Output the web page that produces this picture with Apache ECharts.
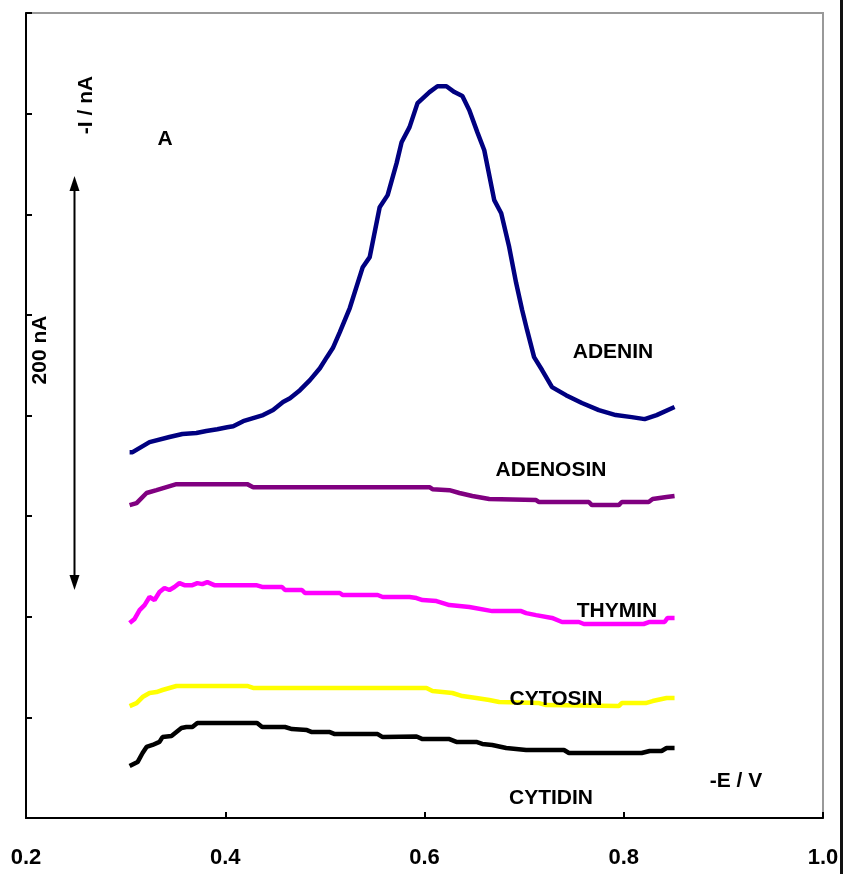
<!DOCTYPE html>
<html>
<head>
<meta charset="utf-8">
<script src="https://cdn.jsdelivr.net/npm/echarts@6/dist/echarts.min.js"></script>
<style>
  html, body { margin: 0; padding: 0; background: #fff; }
  #chart { width: 844px; height: 874px; }
</style>
</head>
<body>
<div id="chart"></div>
<script>
// potential axis (-E / V) and current (-I / nA)
const xTicks = [0.2, 0.4, 0.6, 0.8, 1.0]

const adenin = [
  [0.304, 181.8], [0.307, 181.8], [0.324, 186.8], [0.344, 189.3], [0.357, 190.8],
  [0.371, 191.3], [0.381, 192.3], [0.392, 193.2], [0.402, 194.2], [0.408, 194.7],
  [0.418, 197.2], [0.428, 198.7], [0.438, 200.2], [0.448, 202.7], [0.458, 206.7],
  [0.465, 208.6], [0.475, 212.6], [0.485, 217.6], [0.495, 223.5], [0.502, 229.0],
  [0.508, 233.5], [0.515, 241.4], [0.525, 253.4], [0.538, 273.7], [0.545, 278.7],
  [0.555, 303.5], [0.563, 309.5], [0.572, 325.4], [0.577, 335.8], [0.585, 343.3],
  [0.593, 355.2], [0.605, 360.7], [0.613, 363.6], [0.622, 363.6], [0.630, 360.7],
  [0.638, 358.7], [0.645, 351.7], [0.653, 340.8], [0.660, 331.8], [0.670, 307.0],
  [0.677, 300.5], [0.685, 283.7], [0.692, 265.8], [0.698, 252.4], [0.703, 242.4],
  [0.710, 229.0], [0.718, 222.6], [0.728, 214.1], [0.742, 210.1], [0.758, 206.2],
  [0.775, 202.7], [0.792, 200.2], [0.808, 199.2], [0.821, 198.2], [0.833, 200.2],
  [0.851, 204.2],
]

const adenosin = [
  [0.304, 155.5], [0.311, 156.5], [0.321, 161.5], [0.331, 162.9], [0.341, 164.4],
  [0.351, 165.9], [0.422, 165.9], [0.428, 164.4], [0.605, 164.4], [0.608, 163.4],
  [0.625, 162.9], [0.635, 161.5], [0.648, 160.0], [0.665, 158.5], [0.712, 158.0],
  [0.715, 157.0], [0.765, 157.0], [0.768, 155.5], [0.795, 155.5], [0.798, 157.0],
  [0.825, 157.0], [0.829, 158.5], [0.843, 159.5], [0.851, 160.0],
]

const thymin = [
  [0.304, 96.9], [0.309, 98.9], [0.314, 103.3], [0.319, 105.8], [0.324, 109.8],
  [0.329, 108.3], [0.334, 112.3], [0.339, 114.3], [0.344, 113.3], [0.349, 114.8],
  [0.354, 116.7], [0.359, 115.7], [0.367, 115.7], [0.372, 116.7], [0.377, 116.2],
  [0.382, 117.2], [0.389, 115.7], [0.431, 115.7], [0.437, 114.8], [0.457, 114.8],
  [0.460, 113.3], [0.477, 113.3], [0.480, 111.8], [0.515, 111.8], [0.518, 110.8],
  [0.553, 110.8], [0.558, 109.8], [0.585, 109.8], [0.592, 109.3], [0.598, 108.3],
  [0.612, 107.8], [0.625, 105.8], [0.645, 104.8], [0.668, 102.8], [0.697, 102.8],
  [0.702, 101.8], [0.712, 100.8], [0.728, 99.4], [0.738, 97.4], [0.755, 97.4],
  [0.760, 96.4], [0.820, 96.4], [0.826, 97.4], [0.841, 97.4], [0.844, 99.4],
  [0.851, 99.4],
]

const cytosin = [
  [0.304, 55.6], [0.311, 57.1], [0.317, 60.1], [0.324, 62.1], [0.331, 62.6],
  [0.337, 63.6], [0.344, 64.6], [0.351, 65.6], [0.422, 65.6], [0.428, 64.6],
  [0.602, 64.6], [0.608, 63.1], [0.628, 62.1], [0.638, 60.6], [0.652, 59.6],
  [0.665, 58.6], [0.675, 57.6], [0.715, 57.1], [0.722, 56.1], [0.795, 55.6],
  [0.798, 57.1], [0.822, 57.1], [0.829, 58.1], [0.843, 59.6], [0.851, 59.6],
]

const cytidin = [
  [0.304, 25.8], [0.312, 27.8], [0.317, 32.3], [0.321, 35.3], [0.327, 36.3],
  [0.334, 37.8], [0.337, 40.2], [0.346, 40.7], [0.351, 42.7], [0.356, 44.7],
  [0.361, 45.2], [0.367, 45.2], [0.372, 47.2], [0.432, 47.2], [0.437, 45.2],
  [0.460, 45.2], [0.467, 44.2], [0.482, 43.7], [0.487, 42.7], [0.505, 42.7],
  [0.510, 41.7], [0.553, 41.7], [0.558, 40.2], [0.592, 40.5], [0.598, 39.2],
  [0.625, 39.2], [0.632, 37.8], [0.652, 37.8], [0.658, 36.8], [0.668, 36.3],
  [0.682, 34.8], [0.702, 33.8], [0.740, 33.8], [0.745, 32.3], [0.818, 32.3],
  [0.826, 33.3], [0.838, 33.3], [0.843, 34.8], [0.851, 34.8],
]

const FONT = "'Liberation Sans', Arial, sans-serif"

const curve = (name, data, color) => ({
  name,
  type: 'line',
  data,
  showSymbol: false,
  lineStyle: { color, width: 4.5 },
  itemStyle: { color },
  z: 2,
})

// text labels laid over the plot
const label = (text, x, y, rotation = 0) => ({
  type: 'text',
  x,
  y,
  rotation,
  z: 100,
  style: {
    text,
    font: `bold 21px ${FONT}`,
    fill: '#000',
    align: 'center',
    verticalAlign: 'middle',
  },
})

const chart = echarts.init(document.getElementById('chart'))
chart.setOption({
  animation: false,
  backgroundColor: '#fff',
  grid: {
    left: 26,
    top: 13,
    right: 21,
    bottom: 56,
    show: true,
    borderColor: '#999',
    borderWidth: 2,
    outerBoundsMode: 'none',
  },
  xAxis: {
    type: 'value',
    min: 0.2,
    max: 1.0,
    interval: 0.2,
    splitLine: { show: false },
    axisLine: { onZero: false, lineStyle: { color: '#000', width: 2 } },
    axisTick: { inside: true, length: 6, lineStyle: { color: '#000', width: 2 } },
    axisLabel: {
      margin: 29,
      color: '#000',
      fontWeight: 'bold',
      fontSize: 22,
      fontFamily: FONT,
      formatter: (v) => v.toFixed(1),
      showMinLabel: true,
      showMaxLabel: true,
    },
  },
  yAxis: {
    type: 'value',
    min: 0,
    max: 400,
    interval: 50,
    splitLine: { show: false },
    axisLine: { show: true, onZero: false, lineStyle: { color: '#000', width: 2 } },
    axisTick: { show: true, inside: true, length: 6, lineStyle: { color: '#000', width: 2 } },
    axisLabel: { show: false },
  },
  series: [
    curve('ADENIN', adenin, '#000080'),
    curve('ADENOSIN', adenosin, '#800080'),
    curve('THYMIN', thymin, '#ff00ff'),
    curve('CYTOSIN', cytosin, '#ffff00'),
    curve('CYTIDIN', cytidin, '#000000'),
  ],
  graphic: [
    label('A', 165, 139),
    label('-I / nA', 86, 105, Math.PI / 2),
    label('200 nA', 40, 350, Math.PI / 2),
    label('ADENIN', 613, 352),
    label('ADENOSIN', 551, 470),
    label('THYMIN', 617, 611),
    label('CYTOSIN', 556, 699),
    label('CYTIDIN', 551, 798),
    label('-E / V', 736, 781),
    // 200 nA scale bar
    {
      type: 'line',
      z: 100,
      shape: { x1: 74.5, y1: 186, x2: 74.5, y2: 580 },
      style: { stroke: '#000', lineWidth: 2 },
    },
    {
      type: 'polygon',
      z: 100,
      shape: { points: [[74.5, 176], [69.5, 191], [79.5, 191]] },
      style: { fill: '#000' },
    },
    {
      type: 'polygon',
      z: 100,
      shape: { points: [[74.5, 590], [69.5, 575], [79.5, 575]] },
      style: { fill: '#000' },
    },
    // frame edge on the right of the picture
    {
      type: 'rect',
      z: 100,
      shape: { x: 840, y: 0, width: 3, height: 874 },
      style: { fill: '#111' },
    },
  ],
})
</script>
</body>
</html>
